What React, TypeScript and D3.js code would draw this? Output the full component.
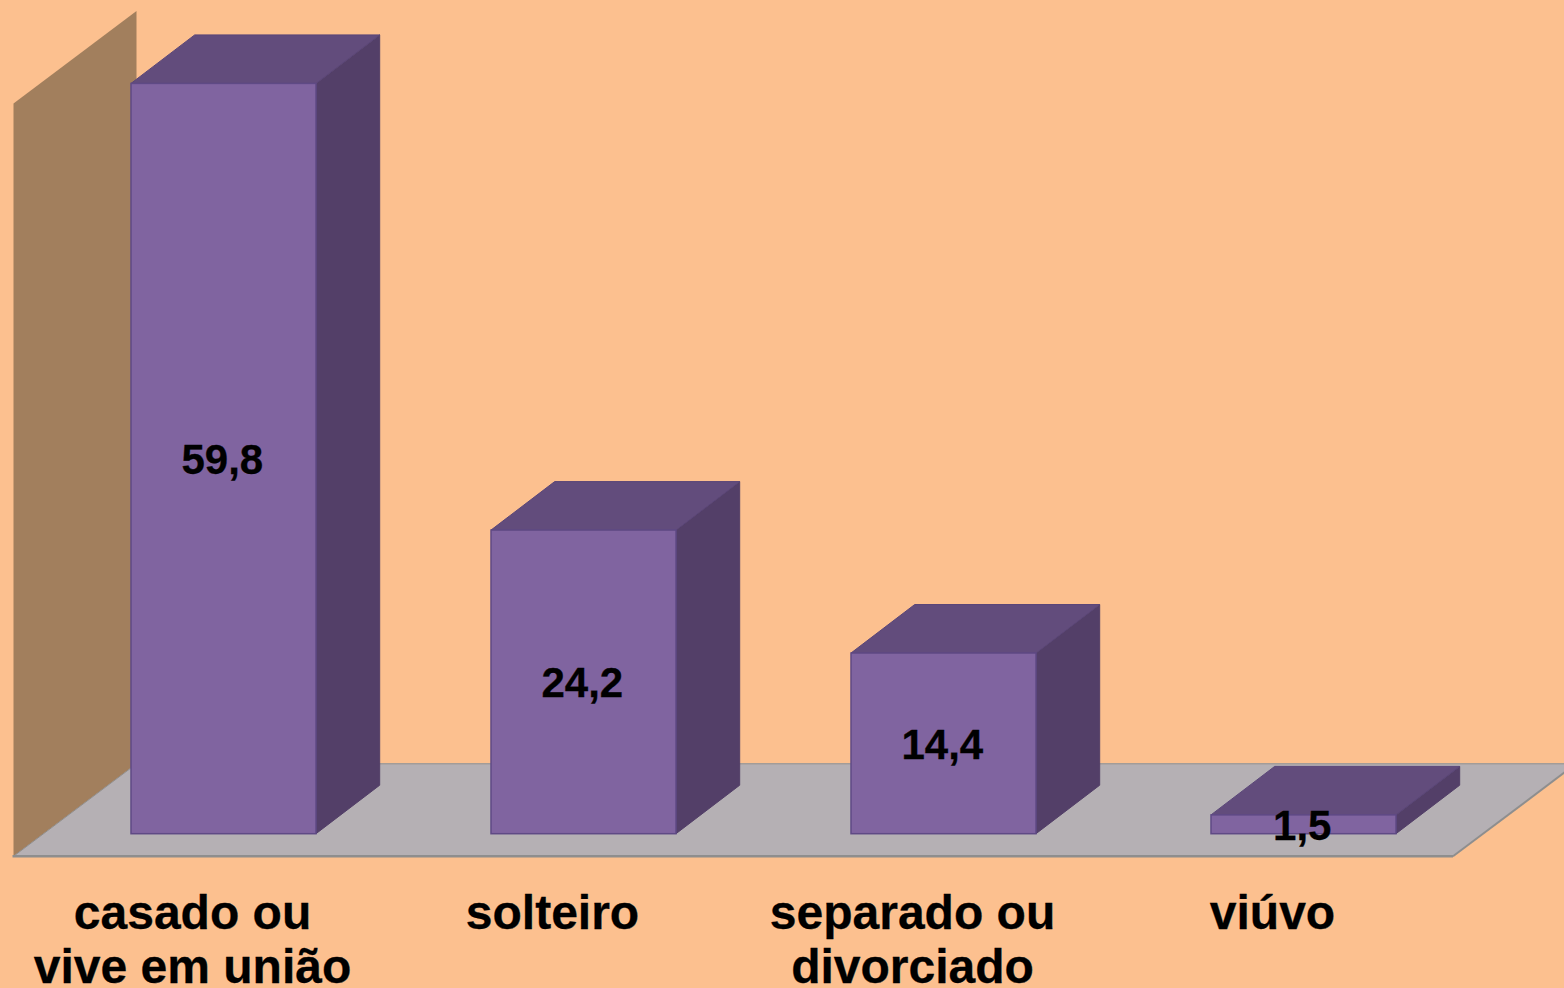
import React from "react";
import * as d3 from "d3";

const categories = ["casado ou|vive em união", "solteiro", "separado ou|divorciado", "viúvo"];
const values = [59.8, 24.2, 14.4, 1.5];
const valueLabels = ["59,8", "24,2", "14,4", "1,5"];

const W = 1564, H = 988;
const FONT = "'Liberation Sans', Arial, sans-serif";
const COL = {
  bg: "#FCC08F", wall: "#A27F5D", floor: "#B5B0B4", floorLine: "#8E8E8E", backLine: "#A39C98",
  front: "#8064A0", frontStroke: "#5F4A85", side: "#533F68", top: "#624C7C", topEdge: "#5A4678",
};

// 3D projection of the chart box
const depthX = 123, depthY = -92.5;         // full box depth
const barDX = 63.7, barDY = -48.5;          // bar depth
const baseY = 856.3, wallLeft = 13.5, floorRight = 1453;
const barInsetY = 22.6;                     // bar front sits this far back on the floor

const y = d3.scaleLinear().domain([0, 60]).range([baseY, 103.5]);
const x = d3.scaleBand<number>()
  .domain(d3.range(categories.length))
  .range([131, 1396])
  .paddingInner(175 / 360)
  .paddingOuter(0);

const poly = (pts: [number, number][]) => d3.line()(pts) + "Z";

export default function App() {
  const bw = x.bandwidth();
  const yb = (v: number) => y(v) - barInsetY;
  return (
    <svg width={W} height={H} viewBox={`0 0 ${W} ${H}`}
      style={{ position: "fixed", left: 0, top: 0, display: "block", background: COL.bg }}>
      <rect width={W} height={H} fill={COL.bg} />
      {/* wall */}
      <path d={poly([[wallLeft, y(60)], [wallLeft + depthX, y(60) + depthY], [wallLeft + depthX, baseY + depthY], [wallLeft, baseY]])} fill={COL.wall} />
      {/* floor */}
      <path d={poly([[wallLeft, baseY], [wallLeft + depthX, baseY + depthY], [floorRight + depthX, baseY + depthY], [floorRight, baseY]])} fill={COL.floor} />
      <line x1={wallLeft + depthX} x2={floorRight + depthX} y1={baseY + depthY} y2={baseY + depthY} stroke={COL.backLine} strokeWidth={1.5} />
      <line x1={floorRight} x2={floorRight + depthX} y1={baseY} y2={baseY + depthY} stroke={COL.floorLine} strokeWidth={2} />
      <line x1={wallLeft} x2={wallLeft + depthX} y1={baseY} y2={baseY + depthY} stroke={COL.floorLine} strokeWidth={1} />
      <line x1={wallLeft - 1} x2={floorRight} y1={baseY} y2={baseY} stroke={COL.floorLine} strokeWidth={2.5} />
      {/* bars */}
      {values.map((v, i) => {
        const x0 = x(i)!, x1 = x0 + bw, yt = yb(v), y0 = yb(0);
        return (
          <g key={i}>
            <path d={poly([[x1, yt], [x1 + barDX, yt + barDY], [x1 + barDX, y0 + barDY], [x1, y0]])} fill={COL.side} stroke={COL.side} strokeWidth={1} strokeLinejoin="round" />
            <path d={poly([[x0, yt], [x0 + barDX, yt + barDY], [x1 + barDX, yt + barDY], [x1, yt]])} fill={COL.top} stroke={COL.topEdge} strokeWidth={1} strokeLinejoin="round" />
            <rect x={x0} y={yt} width={bw} height={y0 - yt} fill={COL.front} stroke={COL.frontStroke} strokeWidth={1.5} />
          </g>
        );
      })}
      {/* value labels */}
      {values.map((v, i) => (
        <text key={i} x={x(i)! + bw / 2 - 1.2} y={(yb(v) + yb(0)) / 2 + 15.3} textAnchor="middle"
          fontFamily={FONT} fontWeight="bold" fontSize={42} fill="#000" stroke="#000" strokeWidth={0.3}>{valueLabels[i]}</text>
      ))}
      {/* category labels */}
      {categories.map((c, i) => (
        <text key={i} textAnchor="middle" fontFamily={FONT} fontWeight="bold" fontSize={48} fill="#000" stroke="#000" strokeWidth={0.3}>
          {c.split("|").map((l, j) => (
            <tspan key={j} x={x(i)! + 61.5} y={929 + j * 54}>{l}</tspan>
          ))}
        </text>
      ))}
    </svg>
  );
}
